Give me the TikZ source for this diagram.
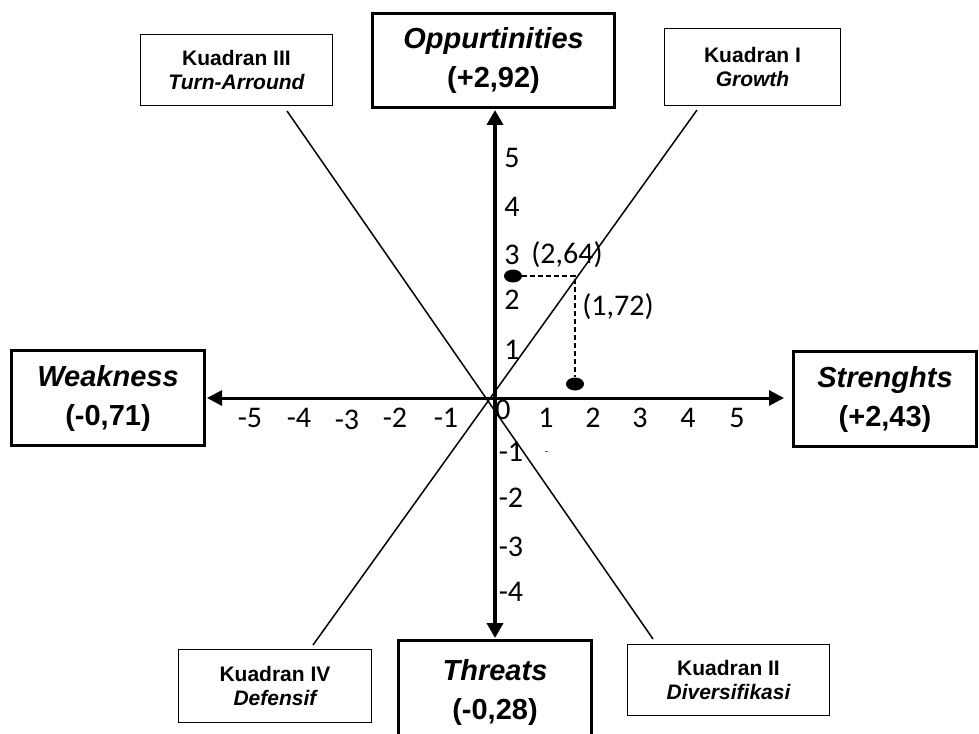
\documentclass[tikz,border=0pt]{standalone}
\usepackage{fontspec}
\setmainfont{Carlito}
\newfontfamily\arial{Liberation Sans}
\usetikzlibrary{arrows.meta,shapes.geometric}
\begin{document}
\begin{tikzpicture}[x=1pt,y=-1pt,
  bigbox/.style={draw, line width=3pt, outer sep=0pt, inner sep=0pt, align=center,
    font=\arial\fontsize{29}{39}\selectfont\bfseries},
  quadbox/.style={draw, line width=1pt, outer sep=0pt, inner sep=0pt, align=center,
    font=\arial\fontsize{21}{24}\selectfont\bfseries},
  vaxis/.style={line width=4pt, {Triangle[length=15pt,width=16pt]}-{Triangle[length=15pt,width=16pt]}},
  haxis/.style={line width=3pt, {Triangle[length=15pt,width=15pt]}-{Triangle[length=15pt,width=15pt]}},
  tick/.style={font=\fontsize{30}{32}\selectfont, inner sep=0pt},
  diag/.style={line width=1.5pt},
  guide/.style={line width=1.5pt, dash pattern=on 5pt off 3pt},
  dot/.style={ellipse, fill=black, minimum width=18pt, minimum height=13pt, inner sep=0pt}
]
\useasboundingbox (0,0) rectangle (979,733);
\clip (0,0) rectangle (979,733);

% boxes
\node[bigbox, minimum width=242pt, minimum height=94pt] (opp) at (493.5,60.5) {{\itshape Oppurtinities}\\(+2,92)};
\node[bigbox, minimum width=193pt, minimum height=95pt] (weak) at (108,398) {{\itshape Weakness}\\(-0,71)};
\node[bigbox, minimum width=183pt, minimum height=95pt] (str) at (885,399) {{\itshape Strenghts}\\(+2,43)};
\node[bigbox, minimum width=193pt, minimum height=104pt] (thr) at (495,692) {{\itshape Threats}\\(-0,28)};

\node[quadbox, minimum width=192pt, minimum height=71pt] (k3) at (236.5,70) {Kuadran III\\{\itshape Turn-Arround}};
\node[quadbox, minimum width=176pt, minimum height=77pt] (k1) at (752.5,67) {Kuadran I\\{\itshape Growth}};
\node[quadbox, minimum width=193pt, minimum height=73pt] (k4) at (275,686) {Kuadran IV\\{\itshape Defensif}};
\node[quadbox, minimum width=202pt, minimum height=71pt] (k2) at (728.5,680) {Kuadran II\\{\itshape Diversifikasi}};

% diagonals
\coordinate (d1s) at (287,111);
\coordinate (d1e) at (653,639);
\coordinate (d2s) at (697,110);
\coordinate (d2e) at (313,645);
\draw[diag] (d1s) -- (d1e);
\draw[diag] (d2s) -- (d2e);

% axes
\coordinate (vtop) at (495,110);
\coordinate (vbot) at (495,638);
\coordinate (hl) at (207,398);
\coordinate (hr) at (784,398);
\draw[vaxis] (vbot) -- (vtop);
\draw[haxis] (hl) -- (hr);

% tick labels
\foreach \t/\x/\y [count=\k] in {-5/250/418,-4/299/418,-3/347/420,-2/395/418,-1/446/418,1/546/418,2/593/418,3/640/418,4/688/418,5/737/418}
  \node[tick] (hx\k) at (\x,\y) {\t};
\node[tick] (zero) at (503,410) {0};
\foreach \t/\y [count=\k] in {5/158,4/207,3/255,2/300,1/350}
  \node[tick] (vp\k) at (512,\y) {\t};
\foreach \t/\y [count=\k] in {-1/452,-2/498,-3/547,-4/592}
  \node[tick] (vn\k) at (511,\y) {\t};
\coordinate (m1) at (544.5,451);
\coordinate (m2) at (547.5,451);
\draw[line width=0.8pt, black!60] (m1) -- (m2);

% points
\node[dot] (p1) at (513,276) {};
\node[dot] (p2) at (575,384) {};
\coordinate (corner) at (575,276);
\draw[guide] (p1.east) -- (corner) -- (p2.north);
\node[tick] (l264) at (567,255) {(2,64)};
\node[tick] (l172) at (618,307) {(1,72)};
\end{tikzpicture}
\end{document}
